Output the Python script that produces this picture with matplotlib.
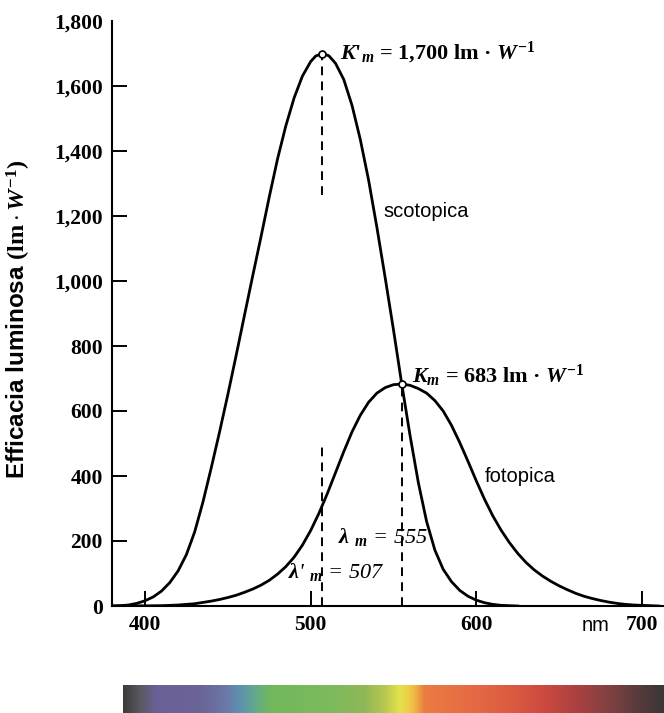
import numpy as np
import matplotlib
matplotlib.use("Agg")
import matplotlib.pyplot as plt
from matplotlib.colors import LinearSegmentedColormap
from matplotlib.ticker import FuncFormatter

# wavelength (nm) -> luminous efficacy (lm/W)
wl_scot = [380, 385, 390, 395, 400, 405, 410, 415, 420, 425, 430, 435, 440, 445,
           450, 455, 460, 465, 470, 475, 480, 485, 490, 495, 500, 503, 507, 511,
           515, 520, 525, 530, 535, 540, 545, 550, 555, 560, 565, 570, 575, 580,
           585, 590, 595, 600, 605, 610, 615, 620, 625]
k_scot = [0, 1, 3, 8, 16, 28, 46, 72, 108, 158, 228, 320, 425, 535,
          650, 770, 893, 1015, 1135, 1258, 1375, 1477, 1563, 1630, 1675, 1692, 1700, 1693,
          1670, 1620, 1540, 1435, 1310, 1165, 1010, 850, 683, 525, 380, 260, 172, 113,
          75, 48, 30, 18, 10, 5, 2, 1, 0]

wl_phot = [380, 400, 410, 420, 430, 440, 445, 450, 455, 460, 465, 470, 475, 480,
           485, 490, 495, 500, 505, 510, 515, 520, 525, 530, 535, 540, 545, 550,
           555, 560, 565, 570, 575, 580, 585, 590, 595, 600, 605, 610, 615, 620,
           625, 630, 635, 640, 645, 650, 655, 660, 665, 670, 675, 680, 685, 690,
           695, 700, 710]
k_phot = [0, 0.5, 1, 3, 7, 15, 20, 26, 33, 42, 52, 64, 79, 98,
          121, 150, 187, 232, 285, 345, 410, 475, 536, 587, 627, 655, 672, 681,
          683, 679, 669, 655, 632, 600, 556, 503, 445, 385, 328, 277, 233, 195,
          162, 134, 111, 92, 76, 62, 50, 39, 30, 23, 17, 12, 8, 5,
          3, 2, 0]

peak_scot = (507, 1700)
peak_phot = (555, 683)

x_ticks = [400, 500, 600, 700]
y_ticks = [0, 200, 400, 600, 800, 1000, 1200, 1400, 1600, 1800]

spectrum_pos = [0.0, 0.031, 0.059, 0.142, 0.189, 0.216, 0.244, 0.272, 0.383, 0.447,
                0.484, 0.512, 0.534, 0.558, 0.641, 0.715, 0.780, 0.845, 0.909, 0.965, 1.0]
spectrum_cols = ["#3c3c3c", "#5a5a62", "#6a6096", "#6a6496", "#6a78a8", "#5e92b0",
                 "#62aa8a", "#72b85c", "#7cba5c", "#90b858", "#b8c850", "#e4e24c",
                 "#f0c444", "#ea7c42", "#e66c44", "#dc5c40", "#cc4a40", "#a84040",
                 "#7a4040", "#503a3a", "#3a3636"]

plt.rcParams["font.family"] = ["Liberation Serif", "DejaVu Serif"]
plt.rcParams["mathtext.fontset"] = "custom"
plt.rcParams["mathtext.rm"] = "Liberation Serif:bold"
plt.rcParams["mathtext.it"] = "Liberation Serif:italic:bold"
plt.rcParams["mathtext.bf"] = "Liberation Serif:bold"

W, H = 664, 713
fig = plt.figure(figsize=(W / 100, H / 100), dpi=100)
ax = fig.add_axes([112 / W, 107 / H, (W - 112) / W, 585 / H])

lw = 2.0
ax.plot(wl_scot, k_scot, color="black", lw=lw, solid_joinstyle="round")
ax.plot(wl_phot, k_phot, color="black", lw=lw, solid_joinstyle="round")

dash = dict(color="black", lw=1.4, linestyles=(0, (4.5, 3.2)))
ax.vlines(peak_scot[0], 1265, peak_scot[1], **dash)
ax.vlines(peak_scot[0], 0, 490, **dash)
ax.vlines(peak_phot[0], 0, peak_phot[1], **dash)

for p in (peak_scot, peak_phot):
    ax.plot(*p, "o", ms=5, mfc="white", mec="black", mew=1.2, zorder=5)

ax.set_xlim(380.1, 713.3)
ax.set_ylim(0, 1800)
ax.set_xticks(x_ticks)
ax.set_yticks(y_ticks)
ax.yaxis.set_major_formatter(FuncFormatter(lambda v, _: f"{v:,.0f}"))
ax.tick_params(direction="in", length=10.5, width=1.4, labelsize=15.5, pad=6.5)
for lab in ax.get_xticklabels() + ax.get_yticklabels():
    lab.set_fontweight("bold")
ax.yaxis.get_major_ticks()[-1].tick1line.set_visible(False)

for s in ("top", "right"):
    ax.spines[s].set_visible(False)
for s in ("left", "bottom"):
    ax.spines[s].set_linewidth(1.5)

ax.text(672, -0.017, "nm", transform=ax.get_xaxis_transform(), ha="center", va="top",
        family="Liberation Sans", fontsize=14.5)

ax.set_ylabel(r"Efficacia luminosa $(\mathrm{lm}\cdot W^{-1})$",
              family="Liberation Sans", weight="bold", fontsize=17.5)
ax.yaxis.set_label_coords(-0.143, 0.49)

ax.text(517.7, 1683, r"$K$'$_m$ = 1,700 lm · $W^{-1}$", fontsize=16, weight="bold",
        ha="left", va="baseline")
ax.text(561.2, 686, r"$K_m$ = 683 lm · $W^{-1}$", fontsize=16, weight="bold",
        ha="left", va="baseline")
ax.text(543.7, 1197, "scotopica", family="Liberation Sans", fontsize=14.5, va="baseline")
ax.text(605.2, 381, "fotopica", family="Liberation Sans", fontsize=14.5, va="baseline")
ax.text(516.5, 194, r"$\lambda\ _m$ = 555", fontsize=16, style="italic", va="baseline")
ax.text(486.3, 86, r"$\lambda$'$\ _m$ = 507", fontsize=16, style="italic", va="baseline")

# spectrum strip below the chart
cmap = LinearSegmentedColormap.from_list("spec", list(zip(spectrum_pos, spectrum_cols)))
bar = fig.add_axes([123 / W, 0, (W - 123) / W, 28 / H])
bar.imshow(np.linspace(0, 1, 512)[None, :], aspect="auto", cmap=cmap)
bar.axis("off")

fig.savefig("out.png", dpi=100)
